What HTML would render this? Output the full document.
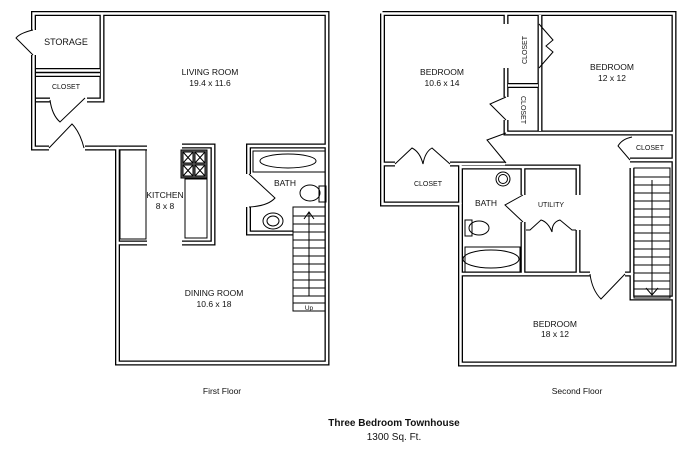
<!DOCTYPE html>
<html><head><meta charset="utf-8"><style>
html,body{margin:0;padding:0;background:#fff;}
svg{display:block;font-family:"Liberation Sans",Arial,sans-serif;}
</style></head><body>
<svg width="700" height="456" viewBox="0 0 700 456" xmlns="http://www.w3.org/2000/svg">
<defs>
<g id="walls" fill="none">
<path d="M33.5,30 V13.5 H327 V363 H117.5 V148 H85"/>
<path d="M33.5,55 V148 H49"/>
<path d="M102,13.5 V100 H87"/>
<path d="M36,70.5 H100"/>
<path d="M36,74.5 H100"/>
<path d="M36,100 H50"/>
<path d="M117.5,148 H147"/>
<path d="M117.5,243 H147"/>
<path d="M182,146 H213 V243 H182"/>
<path d="M327,146 H248.5 V174"/>
<path d="M248.5,207 V233 H293"/>
<path d="M382.5,13.5 H674 V364 H460.5 V204 H382.5 V13.5"/>
<path d="M506,13.5 V24 M506,68 V97 M506,120 V133 H674"/>
<path d="M540,15 V131"/>
<path d="M508,85.5 H538"/>
<path d="M382.5,164 H395 M450,164 H505"/>
<path d="M460.5,164 V204"/>
<path d="M460.5,167 H578 V195"/>
<path d="M523,167 V195 M523,222 V273"/>
<path d="M578,230 V273"/>
<path d="M460.5,274 H590 M625,274 H632 V298 H674"/>
<path d="M632,168 V274"/>
<path d="M630,160 H674"/>
</g>
</defs>
<use href="#walls" stroke="#000" stroke-width="5"/>
<use href="#walls" stroke="#fff" stroke-width="2.4"/>

<g fill="none" stroke="#000" stroke-width="1">
<path d="M33,30 Q20,33 16,38 L33,55"/>
<path d="M50,100 Q52,115 60,122 L85,98"/>
<path d="M49,148 L72,124 Q80,132 84,148"/>
<rect x="120" y="150" width="26" height="89"/>
<rect x="185" y="179" width="22" height="59"/>
<rect x="181" y="150" width="26" height="28" fill="#666"/>
<rect x="183" y="152" width="10" height="11" fill="#fff"/>
<rect x="195" y="152" width="10" height="11" fill="#fff"/>
<rect x="183" y="165" width="10" height="11" fill="#fff"/>
<rect x="195" y="165" width="10" height="11" fill="#fff"/>
<path d="M183,152 l10,11 M193,152 l-10,11 M195,152 l10,11 M205,152 l-10,11 M183,165 l10,11 M193,165 l-10,11 M195,165 l10,11 M205,165 l-10,11"/>
<rect x="253" y="151" width="72" height="21"/>
<ellipse cx="288" cy="161" rx="28" ry="7"/>
<path d="M249,174 L275,198 Q268,206 249,207"/>
<ellipse cx="310" cy="193" rx="10" ry="8"/>
<rect x="319" y="186" width="7" height="16"/>
<ellipse cx="273" cy="221" rx="10" ry="8"/>
<ellipse cx="273" cy="221" rx="6" ry="5"/>
<rect x="293" y="207" width="32" height="104"/>
<path d="M293,216 H325 M293,224 H325 M293,232 H325 M293,240 H325 M293,248 H325 M293,256 H325 M293,264 H325 M293,272 H325 M293,280 H325 M293,288 H325 M293,296 H325 M293,303 H325"/>
<path d="M309,296 V212 M304,219 L309,212 L314,219"/>

<path d="M539,24 L553,40 L546,46 L553,52 L539,68"/>
<path d="M506,97 L490,104 L506,120"/>
<path d="M506,133 L487,140 L506,163"/>
<path d="M395,164 L412,148 Q420,152 423,164 Q425,152 432,148 L450,164"/>
<path d="M630,160 L618,146 Q622,139 632,137"/>
<circle cx="503" cy="179" r="7"/><circle cx="503" cy="179" r="4.5"/>
<path d="M523,195 L505,205 L523,222"/>
<ellipse cx="479" cy="228" rx="10" ry="7"/>
<rect x="465" y="220" width="7" height="16"/>
<rect x="465" y="247" width="55" height="25"/>
<ellipse cx="491" cy="259" rx="28" ry="9"/>
<path d="M526,230 H530 L541,220 Q548,222 552,232 Q552,222 560,220 L572,230 H576"/>
<path d="M590,274 Q592,290 601,299 L625,274"/>
<rect x="634" y="168" width="36" height="130"/>
<path d="M634,177 H670 M634,185 H670 M634,193 H670 M634,201 H670 M634,209 H670 M634,217 H670 M634,225 H670 M634,233 H670 M634,241 H670 M634,249 H670 M634,257 H670 M634,265 H670 M634,273 H670 M634,281 H670 M634,289 H670"/>
<path d="M652,180 V295 M646,288 L652,295 L658,288"/>
</g>

<g font-size="8.5" fill="#111" text-anchor="middle">
<text x="66" y="45" font-size="9">STORAGE</text>
<text x="66" y="89" font-size="7">CLOSET</text>
<text x="210" y="75">LIVING ROOM</text>
<text x="210" y="86">19.4 x 11.6</text>
<text x="165" y="198">KITCHEN</text>
<text x="165" y="209">8 x 8</text>
<text x="285" y="186">BATH</text>
<text x="214" y="296">DINING ROOM</text>
<text x="214" y="307">10.6 x 18</text>
<text x="309" y="310" font-size="6.5">Up</text>
<text x="442" y="75">BEDROOM</text>
<text x="442" y="86">10.6 x 14</text>
<text x="612" y="70">BEDROOM</text>
<text x="612" y="81">12 x 12</text>
<text x="428" y="186" font-size="7">CLOSET</text>
<text x="650" y="150" font-size="7">CLOSET</text>
<text x="486" y="206">BATH</text>
<text x="551" y="207" font-size="7">UTILITY</text>
<text x="555" y="327">BEDROOM</text>
<text x="555" y="337">18 x 12</text>
<text transform="translate(527,50) rotate(-90)" font-size="7">CLOSET</text>
<text transform="translate(521,110) rotate(90)" font-size="7">CLOSET</text>
<text x="222" y="394" font-size="8.5">First Floor</text>
<text x="577" y="394" font-size="8.5">Second Floor</text>
<text x="394" y="426" font-size="10" font-weight="bold">Three Bedroom Townhouse</text>
<text x="394" y="440" font-size="10">1300 Sq. Ft.</text>
</g>
</svg>
</body></html>
